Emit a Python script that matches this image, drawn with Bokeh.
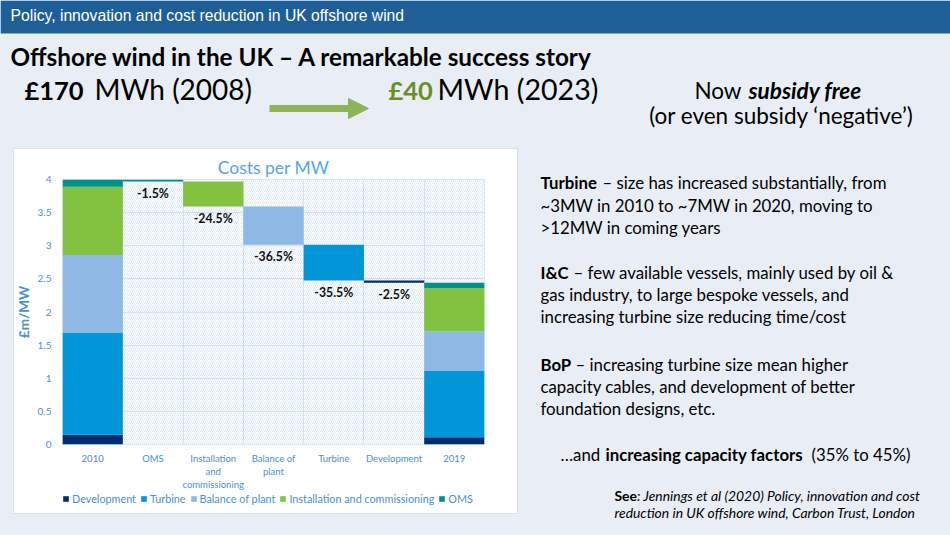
import numpy as np
from bokeh.plotting import figure
from bokeh.layouts import column, row
from bokeh.models import (Range1d, FixedTicker, Grid, BoxAnnotation, Label, Legend,
                          LegendItem, Arrow, NormalHead, ColumnDataSource, NumeralTickFormatter)
from bokeh.core.properties import value
from bokeh.embed import file_html
from bokeh.resources import INLINE

# ---------------- data ----------------
categories = ["2010", "OMS", "Installation\nand\ncommissioning", "Balance of\nplant",
              "Turbine", "Development", "2019"]
components = ["Development", "Turbine", "Balance of plant", "Installation and commissioning", "OMS"]
comp_colors = ["#002d6e", "#0096d8", "#8db9e4", "#82c240", "#00918e"]
costs_2010 = [0.146, 1.545, 1.170, 1.030, 0.109]
costs_2019 = [0.110, 1.007, 0.593, 0.650, 0.080]
waterfall_order = ["OMS", "Installation and commissioning", "Balance of plant", "Turbine", "Development"]
change_labels = ["-1.5%", "-24.5%", "-36.5%", "-35.5%", "-2.5%"]
y_ticks = [0, 0.5, 1, 1.5, 2, 2.5, 3, 3.5, 4]

# ---------------- styles ----------------
SLIDE_BG = "#e9eef6"
HEADER_BG = "#1f5f97"
AXIS_BLUE = "#4a90d6"
TITLE_BLUE = "#55a6e8"
GRID_BLUE = "#cfe1f3"
PANEL_EDGE = "#d6e2ef"
BODY = "Lato"
W, H = 950, 535

# white chart panel and plot frame positions on the slide
PL, PR, PT, PB = 13, 518, 148, 514
FL, FR, FT, FB = 62, 484, 179, 444
CHART_BOTTOM = 493
LEGEND_BOTTOM = 505
BASE_SHIFT = 0.4


def blank_fig(x0, x1, y0, y1):
    f = figure(width=x1 - x0, height=y1 - y0, output_backend="svg", toolbar_location=None,
               x_range=Range1d(x0, x1), y_range=Range1d(y1, y0),
               x_axis_type=None, y_axis_type=None, min_border=0)
    f.min_border_left = f.min_border_right = f.min_border_top = f.min_border_bottom = 0
    f.border_fill_color = SLIDE_BG
    f.background_fill_color = SLIDE_BG
    f.outline_line_color = None
    return f


def lab(f, x, y, text, size, style="normal", color="black", align="left", font=BODY):
    f.add_layout(Label(x=x, y=y - BASE_SHIFT * size, text=text, text_font=font,
                       text_font_size=f"{size}px", text_font_style=style, text_color=color,
                       text_align=align, text_baseline="alphabetic"))


# ---------------- top slide area ----------------
top = blank_fig(0, W, 0, PT)
top.add_layout(BoxAnnotation(left=0, right=W, top=0, bottom=33, fill_color=HEADER_BG, fill_alpha=1,
                             line_color=None, level="underlay"))
lab(top, 10, 21, "Policy, innovation and cost reduction in UK offshore wind", 15.7, color="white",
    font="Liberation Sans")
lab(top, 10, 66, "Offshore wind in the UK – A remarkable success story", 24.3, style="bold")
lab(top, 24, 100, "£170", 25.5, style="bold")
lab(top, 94, 100, "MWh (2008)", 28)
lab(top, 388, 100, "£40", 25.5, style="bold", color="#6b8e23")
lab(top, 437, 100, "MWh (2023)", 28.6)
lab(top, 741, 99, "Now", 22.5, align="right")
lab(top, 748, 99, "subsidy free", 22.5, style="bold italic")
lab(top, 781, 124, "(or even subsidy ‘negative’)", 22.5, align="center")
top.add_layout(Arrow(x_start=269, y_start=108, x_end=368, y_end=108,
                     line_color="#8db456", line_width=7,
                     end=NormalHead(size=20, fill_color="#8db456", line_color="#8db456")))

# ---------------- chart ----------------
p = figure(width=PR, height=CHART_BOTTOM - PT, output_backend="svg", toolbar_location=None,
           x_range=Range1d(0, len(categories)), y_range=Range1d(0, 4),
           min_border_left=FL, min_border_right=PR - FR, min_border_top=FT - PT,
           min_border_bottom=CHART_BOTTOM - FB)
p.border_fill_color = "white"
p.border_fill_alpha = 0
p.background_fill_color = "white"
p.outline_line_color = GRID_BLUE
p.outline_line_width = 1
p.xgrid.visible = False
p.ygrid.visible = False
p.title.text = "Costs per MW"
p.title.align = "center"
p.title.text_font = BODY
p.title.text_font_style = "normal"
p.title.text_font_size = "17.5px"
p.title.text_color = TITLE_BLUE
p.title.standoff = 4

p.add_layout(BoxAnnotation(fill_color="white", fill_alpha=1, line_color=None,
                           hatch_pattern="/", hatch_color=GRID_BLUE, hatch_scale=4, hatch_weight=0.8,
                           hatch_alpha=0.9, level="underlay"))
p.add_layout(Grid(dimension=1, ticker=FixedTicker(ticks=y_ticks), grid_line_color=GRID_BLUE, grid_line_width=1))
p.add_layout(Grid(dimension=0, ticker=FixedTicker(ticks=list(range(1, len(categories)))),
                  grid_line_color=GRID_BLUE, grid_line_width=1))

xs = np.arange(len(categories)) + 0.5

b10, b19 = 0.0, 0.0
for comp, col, v10, v19 in zip(components, comp_colors, costs_2010, costs_2019):
    src = ColumnDataSource(dict(x=[xs[0], xs[-1]], bottom=[b10, b19], top=[b10 + v10, b19 + v19]))
    p.vbar(x="x", bottom="bottom", top="top", width=1.0, source=src, fill_color=col, line_color=None)
    b10 += v10
    b19 += v19

level = b10
wf_x, wf_bottom, wf_top, wf_color = [], [], [], []
for k, comp in enumerate(waterfall_order):
    i = components.index(comp)
    drop = costs_2010[i] - costs_2019[i]
    wf_x.append(xs[k + 1])
    wf_top.append(level)
    wf_bottom.append(level - drop)
    wf_color.append(comp_colors[i])
    level -= drop
wf = ColumnDataSource(dict(x=wf_x, bottom=wf_bottom, top=wf_top, color=wf_color, label=change_labels))
p.vbar(x="x", bottom="bottom", top="top", width=1.0, source=wf, fill_color="color", line_color=None)
p.text(x="x", y="bottom", text="label", source=wf, text_align="center", text_baseline="middle",
       y_offset=12, text_font=value(BODY), text_font_style="bold", text_font_size="12.3px",
       text_color="#111111")

p.yaxis.ticker = FixedTicker(ticks=y_ticks)
p.yaxis.formatter = NumeralTickFormatter(format="0.[0]")
p.xaxis.ticker = FixedTicker(ticks=list(xs))
p.xaxis.major_label_overrides = {float(x): c for x, c in zip(xs, categories)}
for ax in (p.xaxis, p.yaxis):
    ax.axis_line_color = None
    ax.major_tick_line_color = None
    ax.minor_tick_line_color = None
    ax.major_label_text_color = AXIS_BLUE
    ax.major_label_text_font = BODY
p.xaxis.major_label_text_font_size = "9.5px"
p.yaxis.major_label_text_font_size = "10px"
p.yaxis.major_label_standoff = 5
p.xaxis.major_label_standoff = 2
p.yaxis.axis_label = "£m/MW"
p.yaxis.axis_label_text_font = BODY
p.yaxis.axis_label_text_font_style = "bold"
p.yaxis.axis_label_text_font_size = "13.5px"
p.yaxis.axis_label_text_color = AXIS_BLUE
p.yaxis.axis_label_standoff = 3

# legend strip (own small figure under the chart; its frame lines up with the chart frame)
lg = figure(width=PR, height=H - CHART_BOTTOM, output_backend="svg", toolbar_location=None,
            x_range=Range1d(0, 1), y_range=Range1d(0, 1),
            x_axis_type=None, y_axis_type=None, min_border=0)
lg.min_border_left = lg.min_border_right = lg.min_border_top = lg.min_border_bottom = 0
lg.border_fill_alpha = 0
lg.background_fill_alpha = 0
lg.outline_line_color = None
items = []
for comp, col in zip(components, comp_colors):
    r = lg.vbar(x=[0.5], bottom=[0.5], top=[0.5], width=0, fill_color=col, line_color=None)
    items.append(LegendItem(label=comp, renderers=[r]))
legend = Legend(items=items, orientation="horizontal", location=(0, H - LEGEND_BOTTOM),
                padding=0, margin=0, spacing=4, glyph_width=7, glyph_height=7, label_standoff=3,
                label_text_font=BODY, label_text_font_size="10.8px", label_text_color=AXIS_BLUE,
                background_fill_alpha=0, border_line_alpha=0, label_height=12)
lg.add_layout(legend)

chart_block = column(p, lg, spacing=0, styles={
    "background-color": "white",
    "box-shadow": (f"inset {PL}px -{H - PB}px 0 0 {SLIDE_BG}, "
                   f"inset {PL + 1}px -{H - PB + 1}px 0 0 {PANEL_EDGE}, "
                   f"inset 0 1px 0 0 {PANEL_EDGE}, inset -1px 0 0 0 {PANEL_EDGE}")})

# ---------------- right text area ----------------
B = 16.8
txt = blank_fig(PR, W, PT, H)
lab(txt, 540, 189, "Turbine", B, style="bold")
lab(txt, 602, 189, "– size has increased substantially, from", B)
lab(txt, 540, 211.5, "~3MW in 2010 to ~7MW in 2020, moving to", B)
lab(txt, 540, 234, ">12MW in coming years", B)
lab(txt, 540, 278.5, "I&C", B, style="bold")
lab(txt, 573, 278.5, "– few available vessels, mainly used by oil &", B)
lab(txt, 540, 300.5, "gas industry, to large bespoke vessels, and", B)
lab(txt, 540, 322.7, "increasing turbine size reducing time/cost", B)
lab(txt, 540, 371, "BoP", B, style="bold")
lab(txt, 575, 371, "– increasing turbine size mean higher", B)
lab(txt, 540, 393, "capacity cables, and development of better", B)
lab(txt, 540, 415, "foundation designs, etc.", B)
lab(txt, 560, 461, "…and", B)
lab(txt, 605, 461, "increasing capacity factors", B, style="bold")
lab(txt, 811, 461, "(35% to 45%)", B)
lab(txt, 614, 501, "See", 13.9, style="bold")
lab(txt, 636.5, 501, ": Jennings et al (2020) Policy, innovation and cost", 13.9, style="italic")
lab(txt, 614, 518, "reduction in UK offshore wind, Carbon Trust, London", 13.9, style="italic")

layout = column(top, row(chart_block, txt, spacing=0), spacing=0,
                styles={"background-color": SLIDE_BG})

open("out.html", "w").write(file_html(layout, INLINE))
